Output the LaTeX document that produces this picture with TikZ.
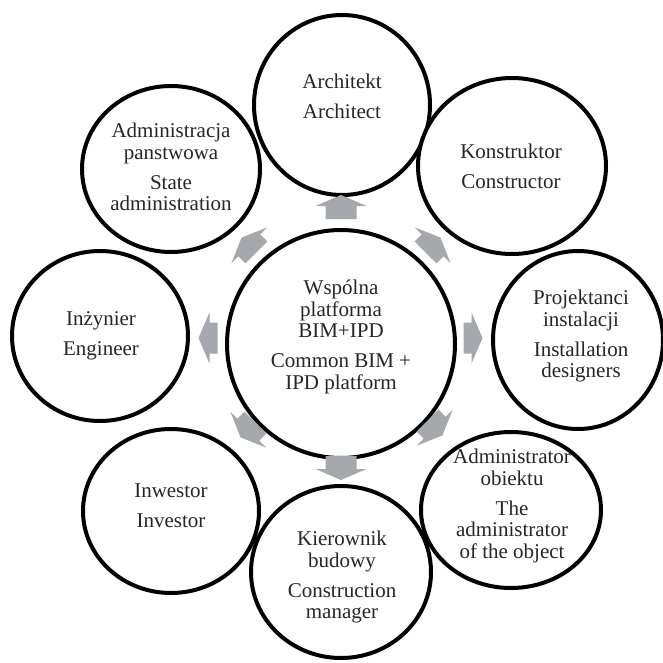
\documentclass[tikz,border=0pt]{standalone}
\usepackage{fontspec}
\setmainfont{Liberation Serif}
\usetikzlibrary{shapes.geometric}
\definecolor{arrowgray}{RGB}{165,168,172}
\definecolor{txtcol}{RGB}{38,38,38}
\tikzset{
  ell/.style={ellipse, draw=black, line width=4pt, inner sep=0pt, fill=white},
  txt/.style={align=center, font=\fontsize{21}{21.5}\selectfont, text=txtcol, inner sep=0pt},
  pics/blockarr/.style={code={
    \fill[arrowgray] (-#1/2,-15.5) -- (#1/2-11,-15.5) -- (#1/2-11,-25.5) -- (#1/2,0)
      -- (#1/2-11,25.5) -- (#1/2-11,15.5) -- (-#1/2,15.5) -- cycle;}}
}
\begin{document}
\begin{tikzpicture}[x=1pt,y=-1pt]
\fill[white] (0,0) rectangle (663,663);
\useasboundingbox (0,0) rectangle (663,663);
% outer circles
\node[ell, minimum width=176pt, minimum height=180pt] (arch) at (342,105) {};
\node[ell, minimum width=188pt, minimum height=176pt] (kons) at (512,166) {};
\node[ell, minimum width=170pt, minimum height=178pt] (proj) at (578,340) {};
\node[ell, minimum width=180pt, minimum height=156pt] (adob) at (511,510) {};
\node[ell, minimum width=180pt, minimum height=172pt] (kier) at (341,572) {};
\node[ell, minimum width=176pt, minimum height=164pt] (inwe) at (171,511) {};
\node[ell, minimum width=176pt, minimum height=170pt] (inzy) at (100,336) {};
\node[ell, minimum width=178pt, minimum height=166pt] (adpa) at (171,169) {};
% centre
\node[ell, minimum width=228pt, minimum height=228pt] (core) at (341,344) {};
% texts
\node[txt] (archT) at (342,96) {Architekt\\[8.5pt]Architect};
\node[txt] (konsT) at (511,166) {Konstruktor\\[8.5pt]Constructor};
\node[txt] (projT) at (581,336) {Projektanci\\instalacji\\[8.5pt]Installation\\designers};
\node[txt] (adobT) at (512,506) {Administrator\\obiektu\\[8.5pt]The\\administrator\\of the object};
\node[txt] (kierT) at (342,577) {Kierownik\\budowy\\[8.5pt]Construction\\manager};
\node[txt] (inweT) at (171,506) {Inwestor\\[8.5pt]Investor};
\node[txt] (inzyT) at (101,336) {Inżynier\\[8.5pt]Engineer};
\node[txt] (adpaT) at (171,167) {Administracja\\panstwowa\\[8.5pt]State\\administration};
\node[txt] (coreT) at (341,337) {Wspólna\\platforma\\BIM+IPD\\[8.5pt]Common BIM +\\IPD platform};
% block arrows
\pic[rotate=90] at (341,207) {blockarr=24};
\pic[rotate=-90] at (341,468) {blockarr=24};
\pic[rotate=0] at (473,338) {blockarr=19};
\pic[rotate=180] at (208,338) {blockarr=19};
\pic[rotate=45] at (433,245) {blockarr=21};
\pic[rotate=135] at (249,245) {blockarr=21};
\pic[rotate=-135] at (248,430) {blockarr=21};
\pic[rotate=-45] at (435,428) {blockarr=21};
\end{tikzpicture}
\end{document}
